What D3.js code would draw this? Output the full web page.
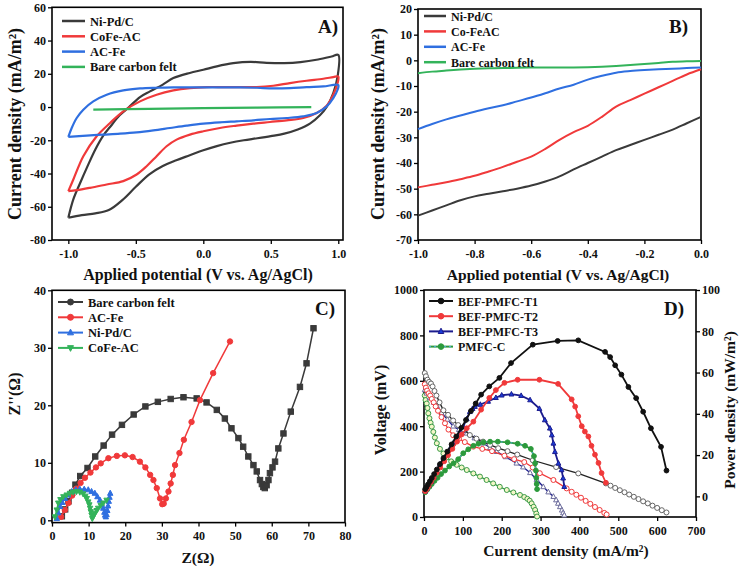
<!DOCTYPE html>
<html><head><meta charset="utf-8">
<script src="https://cdn.jsdelivr.net/npm/d3@7"></script>
<style>body{margin:0;background:#fff;}</style>
</head><body>
<svg id="chart" width="742" height="566"></svg>
<script>
// ---------- Panel A : cyclic voltammetry (V, mA/m2) ----------
const cvNiPd = [[-1,-66.6],[-0.963,-55.6],[-0.914,-46],[-0.86,-36],[-0.8,-25.5],[-0.74,-17],[-0.691,-12],[-0.62,-5],[-0.55,0],[-0.469,6],[-0.395,9.4],[-0.3,13.5],[-0.222,17.4],[-0.1,20.5],[0,22.4],[0.1,24.5],[0.222,26.4],[0.35,27.2],[0.469,26.6],[0.6,26.4],[0.72,27],[0.85,28.6],[0.95,30.4],[1,31.4],
  [0.995,18.4],[0.963,8.4],[0.914,0],[0.864,-5],[0.79,-10],[0.7,-13.5],[0.6,-16],[0.5,-17.5],[0.4,-18.8],[0.3,-20],[0.2,-21.5],[0.1,-23.5],[0,-26],[-0.1,-29],[-0.2,-32],[-0.3,-35.5],[-0.4,-40.5],[-0.5,-48],[-0.6,-56],[-0.7,-62],[-0.8,-64],[-0.9,-65],[-1,-66.6]];
const cvCoFe = [[-1,-50.6],[-0.963,-43.6],[-0.889,-29.6],[-0.79,-17.6],[-0.691,-9.6],[-0.593,-2.6],[-0.469,3.4],[-0.346,7.4],[-0.222,10],[-0.099,11.4],[0.025,12],[0.148,12],[0.272,12],[0.395,12],[0.519,12.8],[0.642,14.4],[0.765,15.8],[0.889,17],[0.963,18],[1,18.4],
  [0.995,14.4],[0.963,7.4],[0.914,0.8],[0.84,-3.6],[0.741,-6.6],[0.617,-8],[0.494,-9],[0.37,-10],[0.247,-11.2],[0.123,-12.6],[0,-14.6],[-0.099,-16.6],[-0.198,-19.6],[-0.272,-23.6],[-0.346,-29.6],[-0.42,-35.6],[-0.494,-40.6],[-0.593,-44.6],[-0.716,-46.6],[-0.84,-48.6],[-0.938,-50],[-1,-50.6]];
const cvACFe = [[-1,-18],[-0.975,-12.6],[-0.938,-6.6],[-0.889,-1.6],[-0.815,3.4],[-0.716,7.4],[-0.593,10],[-0.469,11.2],[-0.346,11.6],[-0.222,11.8],[-0.099,11.8],[0.025,11.8],[0.148,11.8],[0.272,11.8],[0.395,11.6],[0.519,11.2],[0.642,11.4],[0.765,12],[0.889,12.4],[1,13.2],
  [0.995,10.4],[0.963,5.4],[0.914,0.4],[0.84,-3.6],[0.741,-5.6],[0.617,-6.6],[0.494,-7.2],[0.37,-8],[0.247,-8.6],[0.123,-9.2],[0,-10],[-0.123,-11.2],[-0.247,-12.6],[-0.37,-14],[-0.494,-15.2],[-0.617,-16],[-0.741,-16.6],[-0.864,-17.2],[-1,-18]];
const cvBare = [[-0.815,-1.6],[-0.4,-1.1],[0,-0.7],[0.4,-0.3],[0.8,0]];
const cvXTicks = [-1,-0.5,0,0.5,1];
const cvYTicks = [-80,-60,-40,-20,0,20,40,60];

// ---------- Panel B : linear sweep (V, mA/m2) ----------
const lsvV = [-1,-0.95,-0.9,-0.85,-0.8,-0.75,-0.7,-0.65,-0.6,-0.55,-0.5,-0.45,-0.4,-0.35,-0.3,-0.25,-0.2,-0.15,-0.1,-0.05,0];
const lsvNiPd = [-60.5,-58.5,-56.5,-54.5,-53,-52,-51,-50,-48.8,-47.2,-45.2,-42.5,-40,-37.5,-35,-33,-31,-29,-27,-24.5,-22];
const lsvCoFe = [-49.5,-48.5,-47.5,-46.3,-45,-43.3,-41.5,-39.5,-37.5,-34.5,-31,-28,-25.5,-22,-18,-15.5,-13,-10.5,-8,-5.5,-3.5];
const lsvACFe = [-26.8,-24.8,-23,-21.5,-20,-18.7,-17.5,-16,-14.5,-12.8,-11,-9.5,-7.5,-6,-4.8,-4.2,-3.8,-3.5,-3.3,-3,-2.8];
const lsvBare = [-5,-4.4,-4,-3.6,-3.3,-3.1,-3,-2.9,-2.8,-2.8,-2.8,-2.8,-2.7,-2.5,-2.2,-1.8,-1.4,-1,-0.6,-0.4,-0.3];
const lsvXTicks = [-1,-0.8,-0.6,-0.4,-0.2,0];
const lsvYTicks = [-70,-60,-50,-40,-30,-20,-10,0,10,20];

// ---------- Panel C : Nyquist (Z', Z'') ----------
const eisBare = [[2.7,0.7],[3.6,1.9],[4.5,3.3],[5.5,4.8],[6.4,6.2],[7.7,7.7],[9.7,9.1],[11.8,11.1],[14.1,13],[16.4,14.9],[19.1,16.6],[22.3,18.4],[25.5,19.8],[28.9,20.6],[32.4,21.1],[35.9,21.4],[39.5,21.2],[42.2,20.5],[45,19.2],[47.2,17.7],[49,16],[50.9,14.3],[52.2,12.8],[53.6,11.1],[55,9.6],[55.9,8.5],[56.8,7],[57.3,6.3],[57.7,5.8],[58.1,5.6],[58.6,6.1],[59.1,7],[59.5,8.2],[60.2,9.2],[60.9,10.2],[61.8,12.5],[63.2,15.1],[65.2,18.9],[67.7,23.2],[69.5,27.3],[71.4,33.4]];
const eisACFe = [[2.5,0.6],[3.5,1.8],[4.5,3],[5.5,4.3],[6.6,5.5],[7.8,6.5],[9,7.4],[10.5,8.3],[12,9.2],[13.3,9.9],[15.4,10.8],[17.7,11.2],[19.9,11.3],[22,11],[24,10.2],[25.5,9.2],[26.8,7.9],[27.7,7],[28.6,5.6],[29.5,3.8],[30.1,2.8],[30.5,2.9],[31.1,3.8],[31.8,5],[32.4,6.4],[33,7.9],[33.6,9.6],[34.8,11.7],[36,14],[38.1,17.1],[40.4,20.9],[44,25.6],[48.6,31.1]];
const eisNiPd = [[1.3,0.3],[1.7,1.3],[2.2,2.4],[2.8,3.1],[3.5,3.8],[4.4,4.4],[5.4,5],[6.5,5.3],[7.6,5.4],[8.8,5.4],[9.9,5.3],[10.8,5],[11.7,4.7],[12.4,4.1],[13.1,3.5],[13.6,2.8],[14,2.1],[14.3,1.4],[14.5,0.9],[14.7,0.6],[14.9,1],[15.1,1.7],[15.3,2.5],[15.5,3.3],[15.7,4],[15.9,4.7]];
const eisCoFe = [[0.8,0.6],[1.3,1.8],[1.7,3],[2.3,3.6],[3.1,4.1],[4,4.4],[4.9,4.7],[5.8,4.9],[6.7,5],[7.6,4.9],[8.5,4.6],[9.1,4.2],[9.5,3.8],[9.9,3.2],[10.2,2.7],[10.4,2.1],[10.6,1.5],[10.8,0.9],[11,0.3],[11.4,0.8],[11.7,1.2],[12.2,1.7],[12.6,2.1],[13.3,2.6],[14,3],[14.9,3.5]];
const eisXTicks = [0,10,20,30,40,50,60,70,80];
const eisYTicks = [0,10,20,30,40];

// ---------- Panel D : polarization (mA/m2, mV) and power (mA/m2, mW/m2) ----------
const polT1 = [[2,634],[5,620],[9,605],[13,595],[18,588],[22,575],[27,555],[32,535],[40,505],[50,470],[62,450],[75,425],[88,405],[102,385],[118,361],[135,345],[152,332],[170,318],[191,303],[215,290],[240,275],[280,250],[340,220],[397,192],[468,148],[480,138],[492,128],[504,118],[516,109],[528,99],[540,89],[552,79],[564,69],[576,60],[588,50],[600,40],[612,30],[624,20]];
const polT2 = [[2,585],[5,570],[8,557],[12,545],[16,535],[20,520],[25,505],[30,487],[36,468],[45,440],[54,413],[63,385],[75,360],[90,345],[105,330],[127,310],[150,300],[175,290],[207,270],[232,255],[258,242],[280,218],[298,193],[333,163],[367,126],[380,111],[392,98],[404,85],[416,71],[428,58],[440,44],[452,31],[464,18],[470,11]];
const polT3 = [[2,560],[7,545],[15,525],[25,505],[33,490],[45,460],[60,430],[75,400],[90,385],[110,369],[130,348],[153,325],[170,305],[187,288],[210,265],[238,237],[255,220],[273,195],[290,165],[307,133],[320,110],[333,90],[340,75],[345,60],[350,45],[355,30],[358,18],[361,8]];
const polC = [[2,535],[4,515],[7,500],[9,480],[11,457],[14,435],[17,415],[20,398],[24,375],[28,350],[33,325],[41,300],[50,280],[58,262],[70,245],[84,230],[97,218],[110,207],[127,192],[144,178],[161,163],[178,148],[195,133],[213,119],[230,108],[247,97],[258,88],[266,80],[272,72],[277,60],[282,45],[286,31],[289,15],[291,2]];
const powT1 = [[3,3.5],[6,4.4],[10,5.7],[15,7.3],[20,8.9],[26,10.8],[33,13],[41,15.6],[50,18.5],[60,21.7],[71,25.2],[83,29],[96,33.2],[108,37],[121,41.4],[133,45],[147,49.3],[168,53.3],[194,57.4],[224,64.6],[280,73.5],[344,75.3],[397,75.6],[466,70],[479,67.5],[492,63.5],[508,59],[526,53],[546,47.6],[564,41],[584,33],[610,24],[624,12.5]];
const powT2 = [[3,2.5],[7,3.5],[12,5],[18,7],[25,9],[33,11.5],[42,14],[52,17],[62,20],[73,23],[85,26.5],[97,30],[110,33],[127,36.2],[147,42],[168,47.7],[185,51.5],[207,55],[241,56.5],[297,56.5],[345,54.5],[380,47],[389,43.5],[397,38.8],[406,34],[414,31.4],[423,29],[431,24.5],[440,20.2],[449,16.2],[457,11.3],[468,6.6]];
const powT3 = [[3,2.5],[7,3.7],[12,5.2],[18,7.1],[25,9.3],[33,12],[41,15.5],[50,18.5],[60,21],[68,23.5],[75,25.7],[83,28],[92,31],[101,33.8],[110,37.5],[118,41],[125,42.5],[131,43.5],[145,44.5],[165,46],[185,47.8],[200,49],[225,49.5],[250,48.8],[273,46.7],[297,42.5],[311,37],[324,33],[329,29.7],[333,25.7],[337,21.6],[346,16],[354,12.8],[358,8.8],[361,4.7]];
const powC = [[3,2],[8,3.2],[14,4.6],[20,6],[27,7.5],[35,9],[44,10.8],[54,12.5],[65,14.5],[76,16],[88,18],[101,20.9],[114,22.8],[127,24.5],[140,25.5],[153,26.2],[170,26.5],[190,26.5],[215,26.2],[241,25.5],[260,24.5],[275,23],[283,19.5],[286,16],[288,12.5],[289,9],[290,6],[291,3.5]];
const pXTicks = [0,100,200,300,400,500,600,700];
const pVTicks = [0,200,400,600,800,1000];
const pPTicks = [0,20,40,60,80,100];

// ---------- drawing ----------
const F = '"Liberation Serif","Times New Roman",Times,serif';
const svg = d3.select('#chart');
const C = {blk:'#3a3a3a', red:'#f0393a', blu:'#2f6fe0', grn:'#33b35a', navy:'#1c1c8e', dgrn:'#2c9a3c'};

function txt(s, x, y, size, opt={}) {
  const t = svg.append('text').attr('x',x).attr('y',y).text(s)
    .attr('font-family',F).attr('font-weight','bold').attr('font-size',size)
    .attr('fill','#111').attr('text-anchor',opt.anchor||'start');
  if (opt.rot) t.attr('transform',`rotate(${opt.rot},${x},${y})`);
  return t;
}
function styleAxis(g) {
  g.select('.domain').remove();
  g.selectAll('line').attr('stroke','#000').attr('stroke-width',1.3);
  g.selectAll('text').attr('font-family',F).attr('font-weight','bold').attr('font-size',12).attr('fill','#111');
}
function frame(x, y) {
  const [x0,x1]=x.range(), [y0,y1]=y.range();
  svg.append('rect').attr('x',x0).attr('y',y1).attr('width',x1-x0).attr('height',y0-y1)
    .attr('fill','none').attr('stroke','#000').attr('stroke-width',1.6);
}
function bottom(x, y, ticks, fmt) {
  svg.append('g').attr('transform',`translate(0,${y.range()[0]})`)
    .call(d3.axisBottom(x).tickValues(ticks).tickFormat(fmt).tickSize(4).tickPadding(5)).call(styleAxis);
}
function left(x, y, ticks, fmt) {
  svg.append('g').attr('transform',`translate(${x.range()[0]},0)`)
    .call(d3.axisLeft(y).tickValues(ticks).tickFormat(fmt).tickSize(4).tickPadding(2)).call(styleAxis);
}
const f1 = d => d.toFixed(1), f0 = d => String(d);

function marker(g, type, cx, cy, col, r, fill) {
  if (type==='circle') g.append('circle').attr('cx',cx).attr('cy',cy).attr('r',r).attr('fill',fill).attr('stroke',col).attr('stroke-width',1);
  else if (type==='square') g.append('rect').attr('x',cx-r).attr('y',cy-r).attr('width',2*r).attr('height',2*r).attr('fill',fill).attr('stroke',col).attr('stroke-width',1);
  else {
    const s = type==='tri' ? 1 : -1;
    g.append('path').attr('d',`M${cx},${cy-s*r*1.15}L${cx+r},${cy+s*r*0.75}L${cx-r},${cy+s*r*0.75}Z`)
      .attr('fill',fill).attr('stroke',col).attr('stroke-width',1);
  }
}

// ===== Panel A =====
{
  const x = d3.scaleLinear().domain([-1.121,1.035]).range([52,343]);
  const y = d3.scaleLinear().domain([-80,60]).range([240,7.3]);
  frame(x,y); bottom(x,y,cvXTicks,f1); left(x,y,cvYTicks,f0);
  const line = d3.line().x(d=>x(d[0])).y(d=>y(d[1])).curve(d3.curveCatmullRom.alpha(0.5));
  [[cvNiPd,C.blk],[cvCoFe,C.red],[cvACFe,C.blu],[cvBare,C.grn]].forEach(([d,c])=>{
    svg.append('path').datum(d).attr('d',line).attr('fill','none').attr('stroke',c).attr('stroke-width',2.2);
  });
  const leg = [['Ni-Pd/C',C.blk],['CoFe-AC',C.red],['AC-Fe',C.blu],['Bare carbon felt',C.grn]];
  leg.forEach(([s,c],i)=>{
    const yy = 21 + i*15.3;
    svg.append('line').attr('x1',62).attr('x2',85).attr('y1',yy).attr('y2',yy).attr('stroke',c).attr('stroke-width',2.5);
    txt(s,90,yy+4.5,12.5);
  });
  txt('A)',318,33,19);
  txt('Applied potential (V vs. Ag/AgCl)',198,280,16,{anchor:'middle'});
  txt('Current density (mA/m²)',21,124,18,{anchor:'middle',rot:-90});
}

// ===== Panel B =====
{
  const x = d3.scaleLinear().domain([-1,0]).range([418,701]);
  const y = d3.scaleLinear().domain([-70,20]).range([240,9]);
  frame(x,y); bottom(x,y,lsvXTicks,f1); left(x,y,lsvYTicks,f0);
  const line = d3.line().x(d=>x(d[0])).y(d=>y(d[1])).curve(d3.curveCatmullRom.alpha(0.5));
  [[lsvNiPd,C.blk],[lsvCoFe,C.red],[lsvACFe,C.blu],[lsvBare,C.grn]].forEach(([vals,c])=>{
    svg.append('path').datum(lsvV.map((v,i)=>[v,vals[i]])).attr('d',line).attr('fill','none').attr('stroke',c).attr('stroke-width',2);
  });
  const leg = [['Ni-Pd/C',C.blk],['Co-FeAC',C.red],['AC-Fe',C.blu],['Bare carbon felt',C.grn]];
  leg.forEach(([s,c],i)=>{
    const yy = 16 + i*15.4;
    svg.append('line').attr('x1',424).attr('x2',446).attr('y1',yy).attr('y2',yy).attr('stroke',c).attr('stroke-width',2.5);
    txt(s,451,yy+4.5,12);
  });
  txt('B)',669,33,19);
  txt('Applied potential (V vs. Ag/AgCl)',558,280,15.5,{anchor:'middle'});
  txt('Current density (mA/m²)',384,124,18,{anchor:'middle',rot:-90});
}

// ===== Panel C =====
{
  const x = d3.scaleLinear().domain([0,80]).range([52,345]);
  const y = d3.scaleLinear().domain([-0.4,40]).range([522.6,290.3]);
  frame(x,y); bottom(x,y,eisXTicks,f0); left(x,y,eisYTicks,f0);
  const line = d3.line().x(d=>x(d[0])).y(d=>y(d[1]));
  const series = [[eisBare,C.blk,'square','Bare carbon felt'],[eisACFe,C.red,'circle','AC-Fe'],[eisNiPd,C.blu,'tri','Ni-Pd/C'],[eisCoFe,C.grn,'dtri','CoFe-AC']];
  series.forEach(([d,c,m])=>{
    svg.append('path').datum(d).attr('d',line).attr('fill','none').attr('stroke',c).attr('stroke-width',1.5);
    const g = svg.append('g');
    d.forEach(p=>marker(g,m,x(p[0]),y(p[1]),c,2.7,c));
  });
  series.forEach(([d,c,m,s],i)=>{
    const yy = 302 + i*15.3;
    svg.append('line').attr('x1',58).attr('x2',83).attr('y1',yy).attr('y2',yy).attr('stroke',c).attr('stroke-width',2);
    marker(svg,m==='square'?'circle':m,70.5,yy,c,3,c);
    txt(s,88,yy+4.5,12.5);
  });
  txt('C)',315,315,19);
  txt('Z(Ω)',198,563,15.5,{anchor:'middle'});
  txt("Z''(Ω)",20,394,16,{anchor:'middle',rot:-90});
}

// ===== Panel D =====
{
  const x = d3.scaleLinear().domain([0,700]).range([424,696]);
  const yV = d3.scaleLinear().domain([0,1000]).range([517,290]);
  const yP = d3.scaleLinear().domain([-10,100]).range([517,290]);
  frame(x,yV); bottom(x,yV,pXTicks,f0); left(x,yV,pVTicks,f0);
  svg.append('g').attr('transform','translate(696,0)')
    .call(d3.axisRight(yP).tickValues(pPTicks).tickFormat(f0).tickSize(4).tickPadding(2)).call(styleAxis);
  const lV = d3.line().x(d=>x(d[0])).y(d=>yV(d[1]));
  const lP = d3.line().x(d=>x(d[0])).y(d=>yP(d[1]));
  // polarization (open markers)
  [[polC,C.dgrn,'circle','#f4f7c8','#3a9a48'],[polT3,C.navy,'tri','#fff','#6c6c9c'],[polT2,C.red,'circle','#fff',C.red],[polT1,'#222','circle','#fff','#666']].forEach(([d,c,m,fill,mc])=>{
    svg.append('path').datum(d).attr('d',lV).attr('fill','none').attr('stroke',c).attr('stroke-width',1.3);
    const g = svg.append('g');
    d.forEach(p=>marker(g,m,x(p[0]),yV(p[1]),mc,2.5,fill));
  });
  // power (filled markers)
  [[powC,C.dgrn,'circle'],[powT3,C.navy,'tri'],[powT2,C.red,'circle'],[powT1,'#111','circle']].forEach(([d,c,m])=>{
    const p = svg.append('path').datum(d).attr('d',lP).attr('fill','none').attr('stroke',c).attr('stroke-width',1.8);
    if (d===powC) svg.append('path').datum(d).attr('d',lP).attr('fill','none').attr('stroke','#49a8e0').attr('stroke-width',1).attr('stroke-dasharray','2,3');
    const g = svg.append('g');
    d.forEach(q=>marker(g,m,x(q[0]),yP(q[1]),c,2.4,m==='tri'?'#1a3cd8':c));
  });
  const leg = [['BEF-PMFC-T1','#111','circle','#111'],['BEF-PMFC-T2',C.red,'circle',C.red],['BEF-PMFC-T3',C.navy,'tri','#1a3cd8'],['PMFC-C',C.dgrn,'circle',C.dgrn]];
  leg.forEach(([s,c,m,f],i)=>{
    const yy = 301 + i*15.2;
    svg.append('line').attr('x1',429).attr('x2',453).attr('y1',yy).attr('y2',yy).attr('stroke',c).attr('stroke-width',2);
    if (i===3) svg.append('line').attr('x1',429).attr('x2',453).attr('y1',yy).attr('y2',yy).attr('stroke','#49a8e0').attr('stroke-width',1).attr('stroke-dasharray','2,3');
    marker(svg,m,441,yy,c,2.8,f);
    txt(s,458,yy+4.5,12);
  });
  txt('D)',664,315,19);
  txt('Current density (mA/m²)',566,556,15.5,{anchor:'middle'});
  txt('Voltage (mV)',386,410,16,{anchor:'middle',rot:-90});
  txt('Power density (mW/m²)',735,410,15.5,{anchor:'middle',rot:-90});
}
</script>
</body></html>
